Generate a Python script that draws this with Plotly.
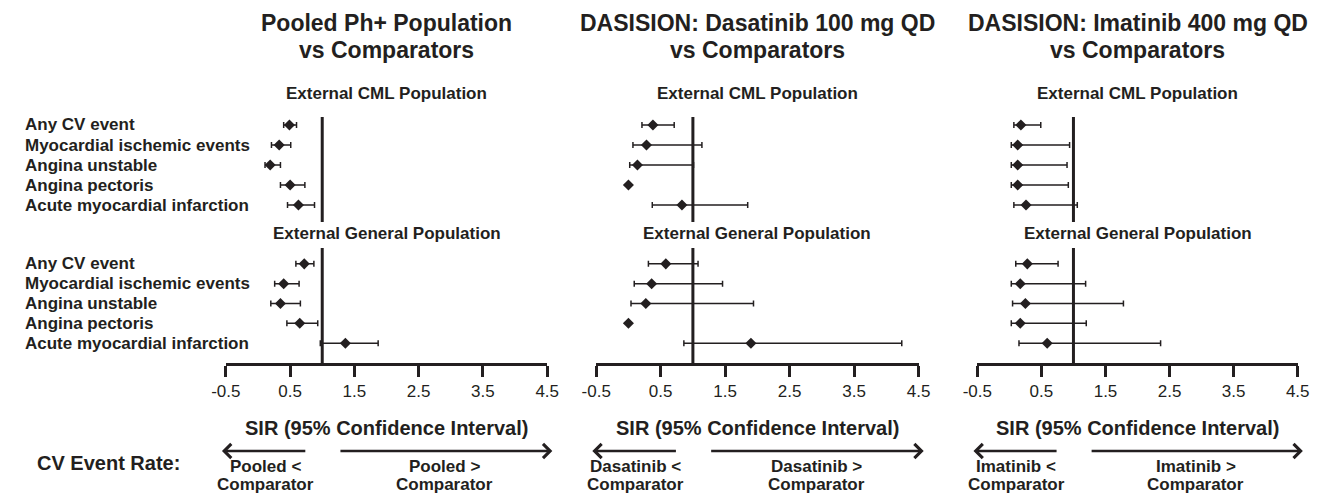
import plotly.graph_objects as go

W, H = 1337, 496
OFF = 8  # page body margin of the browser
INK = "#231f20"
FONT = "Liberation Sans"

categories = ["Any CV event", "Myocardial ischemic events", "Angina unstable",
              "Angina pectoris", "Acute myocardial infarction"]
panel_title_line1 = ["Pooled Ph+ Population", "DASISION: Dasatinib 100 mg QD",
                     "DASISION: Imatinib 400 mg QD"]
panel_title_line2 = ["vs Comparators", "vs Comparators", "vs Comparators"]
section_titles = ["External CML Population", "External General Population"]
tick_vals = [-0.5, 0.5, 1.5, 2.5, 3.5, 4.5]
tick_text = ["-0.5", "0.5", "1.5", "2.5", "3.5", "4.5"]
axis_title = "SIR (95% Confidence Interval)"
row_header = "CV Event Rate:"
lower_labels = ["Pooled <", "Dasatinib <", "Imatinib <"]
upper_labels = ["Pooled >", "Dasatinib >", "Imatinib >"]
comparator_label = "Comparator"

# Pooled Ph+ population
pooled_cml_sir = [0.49, 0.33, 0.19, 0.50, 0.63]
pooled_cml_lo = [0.40, 0.21, 0.11, 0.35, 0.46]
pooled_cml_hi = [0.60, 0.51, 0.35, 0.73, 0.88]
pooled_gen_sir = [0.72, 0.40, 0.35, 0.65, 1.36]
pooled_gen_lo = [0.59, 0.26, 0.20, 0.45, 0.97]
pooled_gen_hi = [0.87, 0.64, 0.66, 0.93, 1.87]
# DASISION dasatinib
dasa_cml_sir = [0.38, 0.28, 0.14, 0.00, 0.83]
dasa_cml_lo = [0.21, 0.07, 0.02, 0.00, 0.37]
dasa_cml_hi = [0.71, 1.14, 1.01, 0.00, 1.85]
dasa_gen_sir = [0.58, 0.36, 0.27, 0.00, 1.90]
dasa_gen_lo = [0.31, 0.09, 0.04, 0.00, 0.86]
dasa_gen_hi = [1.08, 1.46, 1.94, 0.00, 4.24]
# DASISION imatinib
imat_cml_sir = [0.18, 0.13, 0.13, 0.13, 0.26]
imat_cml_lo = [0.07, 0.03, 0.03, 0.03, 0.07]
imat_cml_hi = [0.49, 0.94, 0.90, 0.92, 1.06]
imat_gen_sir = [0.28, 0.17, 0.25, 0.17, 0.59]
imat_gen_lo = [0.10, 0.03, 0.05, 0.03, 0.15]
imat_gen_hi = [0.76, 1.19, 1.78, 1.20, 2.36]

reference_sir = 1.0

panels = [
    [(pooled_cml_sir, pooled_cml_lo, pooled_cml_hi), (pooled_gen_sir, pooled_gen_lo, pooled_gen_hi)],
    [(dasa_cml_sir, dasa_cml_lo, dasa_cml_hi), (dasa_gen_sir, dasa_gen_lo, dasa_gen_hi)],
    [(imat_cml_sir, imat_cml_lo, imat_cml_hi), (imat_gen_sir, imat_gen_lo, imat_gen_hi)],
]

# layout geometry (screen pixels)
x_px = [(215, 543), (593, 922), (982, 1309)]
top_px = (117, 222)
bot_px = (248, 363)


def px2x(p):
    return (p - OFF) / W


def px2y(p):
    return 1 - (p - OFF) / H


fig = go.Figure()
layout = dict(
    width=W, height=H, margin=dict(l=0, r=0, t=0, b=0),
    paper_bgcolor="white", plot_bgcolor="white", showlegend=False,
    font=dict(family=FONT, color=INK),
)
shapes = []
annotations = []


def bold(size):
    return dict(family=FONT, size=size, color=INK, weight="bold")


for p, (secs, (xa, xb)) in enumerate(zip(panels, x_px)):
    xdom = [px2x(xa), px2x(xb)]
    cx = (xa + xb) / 2
    for s, (sir, lo, hi) in enumerate(secs):
        idx = 2 * p + s + 1
        xn = "x" if idx == 1 else f"x{idx}"
        yn = "y" if idx == 1 else f"y{idx}"
        xk = "xaxis" if idx == 1 else f"xaxis{idx}"
        yk = "yaxis" if idx == 1 else f"yaxis{idx}"
        plus = [h - v for h, v in zip(hi, sir)]
        minus = [v - l for v, l in zip(sir, lo)]
        fig.add_trace(go.Scatter(
            x=sir, y=categories, xaxis=xn, yaxis=yn, mode="markers",
            marker=dict(symbol="diamond", size=8.5, color=INK),
            error_x=dict(type="data", symmetric=False, array=plus, arrayminus=minus,
                         color=INK, thickness=1.5, width=3),
            hoverinfo="x+y",
        ))
        pxr = top_px if s == 0 else bot_px
        ydom = [px2y(pxr[1]), px2y(pxr[0])]
        yrange = [4.85, -0.4] if s == 0 else [5.0, -0.8]
        layout[yk] = dict(domain=ydom, range=yrange, visible=False, anchor=xn,
                          type="category", categoryorder="array", categoryarray=categories)
        if s == 0:
            layout[xk] = dict(domain=xdom, range=[-0.5, 4.5], visible=False, anchor=yn)
        else:
            layout[xk] = dict(domain=xdom, range=[-0.5, 4.5], anchor=yn,
                              showline=True, linewidth=3, linecolor=INK,
                              ticks="outside", ticklen=11, tickwidth=3, tickcolor=INK,
                              tickvals=tick_vals, ticktext=tick_text,
                              tickfont=dict(family=FONT, size=17, color=INK),
                              showgrid=False, zeroline=False, fixedrange=True)
        shapes.append(dict(type="line", xref=xn, yref=f"{yn} domain",
                           x0=reference_sir, x1=reference_sir, y0=0, y1=1,
                           line=dict(color=INK, width=3)))
        # section title
        annotations.append(dict(text=section_titles[s], xref="paper", yref="paper",
                                x=px2x(cx), y=px2y(94 if s == 0 else 233),
                                xanchor="center", yanchor="middle", showarrow=False,
                                font=bold(17)))
        # row labels only for first panel
        if p == 0:
            for c in categories:
                annotations.append(dict(text=c, xref="paper", yref=yn, x=px2x(8), y=c,
                                        xanchor="left", yanchor="middle", showarrow=False,
                                        font=bold(17)))
    # panel titles
    annotations.append(dict(text=panel_title_line1[p], xref="paper", yref="paper",
                            x=px2x(cx), y=px2y(23), xanchor="center", yanchor="middle",
                            showarrow=False, font=bold(23)))
    annotations.append(dict(text=panel_title_line2[p], xref="paper", yref="paper",
                            x=px2x(cx), y=px2y(50), xanchor="center", yanchor="middle",
                            showarrow=False, font=bold(23)))
    # axis title
    annotations.append(dict(text=axis_title, xref="paper", yref="paper",
                            x=px2x(cx), y=px2y(428), xanchor="center", yanchor="middle",
                            showarrow=False, font=bold(20)))
    bx = f"x{2 * p + 2}"
    # direction arrows
    annotations.append(dict(text="", xref=bx, yref="paper", x=-0.56, y=px2y(451),
                            axref=bx, ax=0.76, ayref="pixel", ay=0, showarrow=True,
                            arrowhead=4, arrowsize=1.1, arrowwidth=2.5, arrowcolor=INK))
    annotations.append(dict(text="", xref=bx, yref="paper", x=4.58, y=px2y(451),
                            axref=bx, ax=1.26, ayref="pixel", ay=0, showarrow=True,
                            arrowhead=4, arrowsize=1.1, arrowwidth=2.5, arrowcolor=INK))
    for lbl, xc in ((lower_labels[p], 0.11), (upper_labels[p], 2.91)):
        annotations.append(dict(text=lbl, xref=bx, yref="paper", x=xc, y=px2y(466),
                                xanchor="center", yanchor="middle", showarrow=False,
                                font=bold(17)))
        annotations.append(dict(text=comparator_label, xref=bx, yref="paper", x=xc,
                                y=px2y(484), xanchor="center", yanchor="middle",
                                showarrow=False, font=bold(17)))

annotations.append(dict(text=row_header, xref="paper", yref="paper", x=px2x(95),
                        y=px2y(463), xanchor="center", yanchor="middle",
                        showarrow=False, font=bold(20)))

layout["shapes"] = shapes
layout["annotations"] = annotations
fig.update_layout(**layout)
fig.write_html("out.html")
